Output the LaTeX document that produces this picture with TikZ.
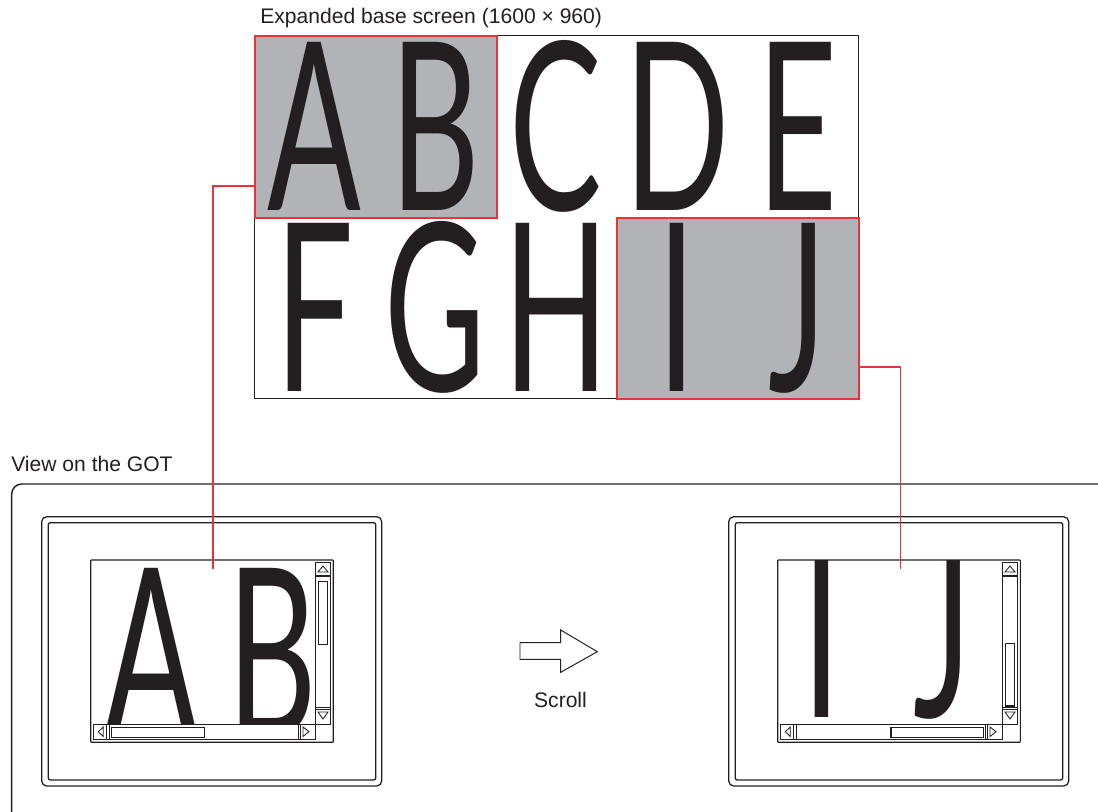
\documentclass[tikz,border=0pt]{standalone}
\usepackage{fontspec}
\setmainfont{Liberation Sans}
\newfontfamily\glyphfont{Lato}
\definecolor{CINK}{RGB}{35,31,32}
\definecolor{CSEL}{RGB}{177,179,182}
\definecolor{CRED}{RGB}{234,51,56}
\tikzset{
  lbl/.style={font=\fontsize{15}{18}\selectfont,text=CINK,inner sep=0pt},
  glyph/.style={font=\glyphfont\fontsize{167}{167}\selectfont,text=CINK,inner sep=0pt,anchor=base,xscale=0.59},
  basebox/.style={draw=CINK,line width=0.9pt,inner sep=0pt,anchor=north west},
  selbox/.style={draw=CRED,fill=CSEL,line width=1.3pt,inner sep=0pt,anchor=north west},
  link/.style={draw=CRED,line width=1.1pt},
  frm/.style={draw=CINK,line width=0.9pt},
  scr/.style={draw=CINK,line width=0.8pt,rounded corners=0.5pt},
  sbar/.style={draw=CINK,fill=white,line width=0.6pt},
  sline/.style={draw=CINK,line width=0.6pt}
}
% glyphs of the base screen: #1 = name prefix, #2 = list of cell/letter
\newcommand{\letterset}[2]{%
  \foreach \k/\ch in {#2}{%
    \pgfmathsetmacro\cx{6.35+(mod(\k,5)+0.5)*3.02}%
    \pgfmathsetmacro\cy{-5.275-floor(\k/5)*4.5}%
    \node[glyph] (#1\ch) at (\cx,\cy) {\ch};
  }}
% scroll bars of one GOT screen: xshift, v-thumb top/bottom, h-thumb left/right
\newcommand{\gotbars}[5]{%
  \begin{scope}[xshift=#1cm]
    \draw[sbar] (7.8825,-14.0675) rectangle (8.2675,-18.1075);
    \draw[sbar] (2.3325,-18.1075) rectangle (7.8825,-18.4825);
    \draw[sline] (7.8825,-14.375) -- (8.2675,-14.375) (7.8825,-14.4175) -- (8.2675,-14.4175);
    \draw[sline] (7.8825,-17.6825) -- (8.2675,-17.6825) (7.8825,-17.725) -- (8.2675,-17.725);
    \draw[sline] (2.6675,-18.1075) -- (2.6675,-18.4825) (2.7325,-18.1075) -- (2.7325,-18.4825);
    \draw[sline] (7.4575,-18.1075) -- (7.4575,-18.4825) (7.5175,-18.1075) -- (7.5175,-18.4825);
    \draw[sline] (7.95,-14.3) -- (8.075,-14.15) -- (8.2,-14.3) -- cycle;
    \draw[sline] (7.95,-17.8) -- (8.075,-17.975) -- (8.2,-17.8) -- cycle;
    \draw[sline] (2.5825,-18.175) -- (2.4575,-18.2925) -- (2.5825,-18.4125) -- cycle;
    \draw[sline] (7.575,-18.175) -- (7.725,-18.2925) -- (7.575,-18.4125) -- cycle;
    \draw[sline,line width=0.8pt] (7.9575,#2) rectangle (8.1925,#3);
    \draw[sline,line width=0.8pt] (#4,-18.1825) rectangle (#5,-18.4325);
  \end{scope}}

\begin{document}
\begin{tikzpicture}
  \useasboundingbox (0,0) rectangle (27.45,-20.3);
  % expanded base screen
  \node[lbl,anchor=base west] (baselbl) at (6.5,-0.6) {Expanded base screen (1600 × 960)};
  \node[basebox,minimum width=15.1cm,minimum height=9.075cm] (base) at (6.35,-0.875) {};
  \node[selbox,minimum width=6.05cm,minimum height=4.55cm] (boxAB) at (6.35,-0.875) {};
  \node[selbox,minimum width=6.05cm,minimum height=4.525cm] (boxIJ) at (15.4,-5.425) {};
  \letterset{b}{0/A,1/B,2/C,3/D,4/E,5/F,6/G,7/H,8/I,9/J}
  % view on the GOT
  \node[lbl,anchor=base west] (viewlbl) at (0.275,-11.775) {View on the GOT};
  \draw[frm,line width=1pt,rounded corners=0.25cm] (0.2925,-20.6) -- (0.2925,-12.1) -- (27.8,-12.1);
  \draw[frm,rounded corners=0.125cm] (1.0425,-12.9175) rectangle (9.5425,-19.65);
  \draw[frm,rounded corners=0.05cm] (1.2075,-13.0675) rectangle (9.3925,-19.5);
  \draw[frm,rounded corners=0.125cm] (18.2175,-12.9175) rectangle (26.7175,-19.65);
  \draw[frm,rounded corners=0.05cm] (18.3825,-13.0675) rectangle (26.5675,-19.5);
  \begin{scope}
    \clip (2.2675,-14.0) rectangle (8.3325,-18.5575);
    \begin{scope}[shift={(-4.0825,-13.125)}]
      \letterset{l}{0/A,1/B}
    \end{scope}
  \end{scope}
  \begin{scope}
    \clip (19.4425,-14.0) rectangle (25.5075,-18.5575);
    \begin{scope}[shift={(3.625,-8.1675)}]
      \letterset{r}{8/I,9/J}
    \end{scope}
  \end{scope}
  \gotbars{0}{-14.5425}{-16.1075}{2.7925}{5.1075}
  \gotbars{17.175}{-16.0825}{-17.65}{5.1}{7.4075}
  \draw[scr] (2.2675,-14.0) rectangle (8.3325,-18.5575);
  \draw[scr] (19.4425,-14.0) rectangle (25.5075,-18.5575);
  % scroll arrow
  \draw[sline,line width=0.7pt] (13.0,-16.0675) -- (14.0175,-16.0675) -- (14.0175,-15.75) -- (14.9325,-16.2925)
    -- (14.0175,-16.8075) -- (14.0175,-16.4825) -- (13.0,-16.4825) -- cycle;
  \node[lbl,anchor=base] (scrolllbl) at (14.0125,-17.675) {Scroll};
  % red leaders
  \coordinate (viewAB) at (5.325,-14.225);
  \coordinate (viewIJ) at (22.5125,-14.225);
  \draw[link] ([yshift=0.825cm]boxAB.south west) -| (viewAB);
  \draw[link] ([yshift=0.825cm]boxIJ.south east) -| (viewIJ);
\end{tikzpicture}
\end{document}
